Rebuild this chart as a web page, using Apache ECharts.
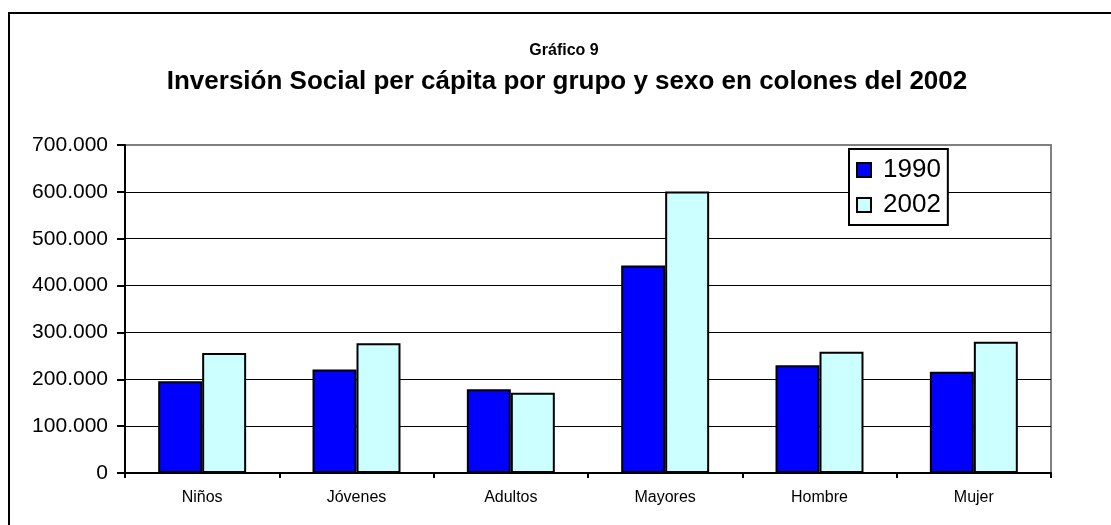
<!DOCTYPE html>
<html>
<head>
<meta charset="utf-8">
<script src="https://cdn.jsdelivr.net/npm/echarts@6/dist/echarts.min.js"></script>
<style>
html,body{margin:0;padding:0;background:#fff;}
#chart{width:1111px;height:525px;}
</style>
</head>
<body>
<div id="chart"></div>
<script>
const categories = ['Niños', 'Jóvenes', 'Adultos', 'Mayores', 'Hombre', 'Mujer'];
const seriesNames = ['1990', '2002'];
const values1990 = [196000, 221000, 179000, 443000, 230000, 216000];
const values2002 = [256000, 277000, 171000, 601000, 259000, 280000];
const yTicks = [0, 100000, 200000, 300000, 400000, 500000, 600000, 700000];
const titleTop = 'Gráfico 9';
const titleMain = 'Inversión Social per cápita por grupo y sexo en colones del 2002';

const FONT = '"Liberation Sans", Arial, sans-serif';
function fmt(v){ return String(v).replace(/\B(?=(\d{3})+(?!\d))/g, '.'); }

const chart = echarts.init(document.getElementById('chart'), null, {renderer:'canvas'});
chart.setOption({
  animation:false,
  backgroundColor:'#fff',
  textStyle:{fontFamily:FONT},
  title:[
    {text:titleTop, left:559, textAlign:'center', top:38, textStyle:{fontFamily:FONT, fontSize:16, fontWeight:'bold', color:'#000'}},
    {text:titleMain, left:562, textAlign:'center', top:64, textStyle:{fontFamily:FONT, fontSize:26, fontWeight:'bold', color:'#000'}}
  ],
  graphic:[
    {type:'rect', silent:true, z:100, shape:{x:9, y:13, width:1300, height:700}, style:{fill:null, stroke:'#000', lineWidth:2}}
  ],
  legend:{
    orient:'vertical', left:849, top:149,
    data:seriesNames,
    icon:'rect', itemWidth:14, itemHeight:14, itemGap:9,
    padding:[8,7,7,7],
    borderColor:'#000', borderWidth:2, backgroundColor:'#fff',
    textStyle:{fontFamily:FONT, fontSize:26, color:'#000', padding:[0,0,0,7]},
    z:20
  },
  grid:{left:125, top:145, width:926, height:328, show:true, borderColor:'#808080', borderWidth:2, backgroundColor:'transparent'},
  xAxis:{
    type:'category', data:categories,
    axisLine:{lineStyle:{color:'#000', width:2}},
    axisTick:{show:true, length:5, lineStyle:{color:'#000', width:2}},
    axisLabel:{fontFamily:FONT, fontSize:16, color:'#000', margin:17}
  },
  yAxis:{
    type:'value', min:0, max:700000, interval:100000,
    axisLine:{show:true, lineStyle:{color:'#000', width:2}},
    axisTick:{show:true, length:8, lineStyle:{color:'#000', width:2}},
    axisLabel:{fontFamily:FONT, fontSize:21, color:'#000', margin:17, formatter:function(v){return fmt(v);}},
    splitLine:{show:true, lineStyle:{color:['#000','#000','#000','#000','#000','#000','#000','#808080'], width:1}}
  },
  series:[
    {name:seriesNames[0], type:'bar', data:values1990, barGap:'0%', barCategoryGap:'43%',
     itemStyle:{color:'#0000FF', borderColor:'#000', borderWidth:2}},
    {name:seriesNames[1], type:'bar', data:values2002, barGap:'0%', barCategoryGap:'43%',
     itemStyle:{color:'#CCFFFF', borderColor:'#000', borderWidth:2}}
  ]
});
</script>
</body>
</html>
